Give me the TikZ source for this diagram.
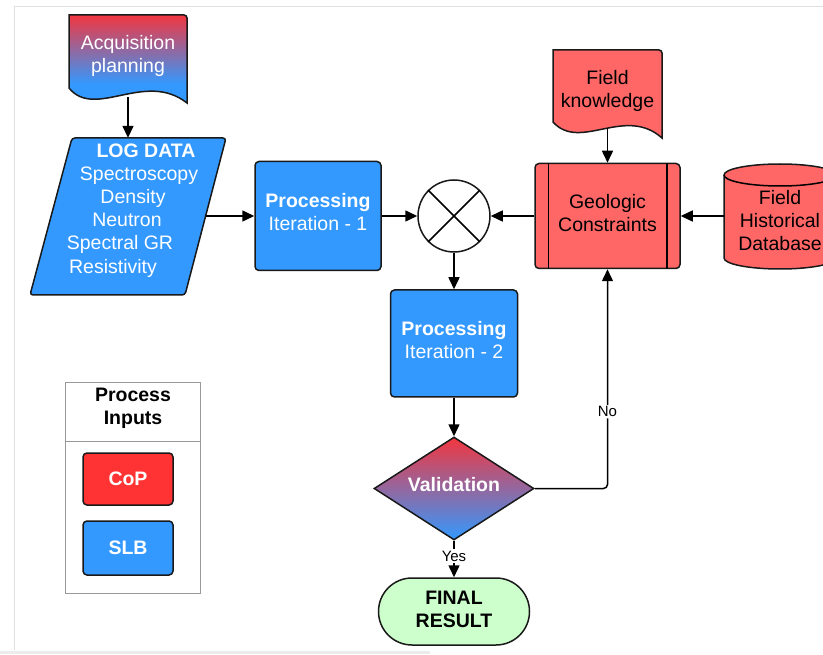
\documentclass[tikz,border=0pt]{standalone}
\usepackage{fontspec}
\setmainfont{Liberation Sans}
\usetikzlibrary{arrows.meta,shapes.geometric,shapes.misc}
\definecolor{slb}{HTML}{3399FF}
\definecolor{salmon}{HTML}{FF6666}
\definecolor{copred}{HTML}{FF3333}
\definecolor{gradred}{HTML}{F2363F}
\definecolor{fgreen}{HTML}{CCFFCC}
\pgfdeclareverticalshading{acqshade}{100bp}{color(0bp)=(slb); color(42bp)=(slb); color(75bp)=(gradred); color(100bp)=(gradred)}
\newcommand\diagfont{\fontsize{19.5}{23}\selectfont}
\begin{document}
\begin{tikzpicture}[x=1pt,y=-1pt,
  every node/.style={font=\diagfont, align=center, inner sep=0pt},
  outl/.style={draw=black!90, line width=1.5pt},
  bluebox/.style={outl, fill=slb, rounded corners=4pt, text=white},
  redbox/.style={outl, fill=salmon, rounded corners=4pt, text=black},
  ghost/.style={draw=none, fill=none},
  conn/.style={line width=1.5pt, -{Triangle[length=12pt,width=11pt]}},
  lbl/.style={font=\fontsize{15}{17}\selectfont, fill=white, inner sep=1.5pt},
  ltxt/.style={text=white, text height=15pt, text depth=3pt},
]
\useasboundingbox (0,0) rectangle (823,655);
% screenshot frame
\draw[gray!25, line width=1pt] (14,650) -- (14,7) -- (823,7);
\draw[gray!15, line width=3pt] (0,652) -- (430,652);

% Acquisition planning (document)
\node[ghost, minimum width=118pt, minimum height=82pt] (acq) at (128,56) {};
\path[outl, shading=acqshade]
  (69,88) -- (69,15) [rounded corners=3pt] -- (187,15) [sharp corners] -- (187,103)
  .. controls (145,70) and (95,120) .. (69,88) -- cycle;
\node[text=white] (acqt) at (128,55.5) {Acquisition\\planning};

% LOG DATA (parallelogram)
\node[ghost, minimum width=196pt, minimum height=157pt] (logd) at (128,216.5) {};
\path[outl, fill=slb, rounded corners=3pt] (72,138) -- (226,138) -- (185,295) -- (30,295) -- cycle;
\coordinate (logE) at (205.5,216);
\node[ltxt, font=\diagfont\bfseries] (l1) at (146,152) {LOG DATA};
\node[ltxt] (l2) at (139,175) {Spectroscopy};
\node[ltxt] (l3) at (133,198) {Density};
\node[ltxt] (l4) at (127,221) {Neutron};
\node[ltxt] (l5) at (120,244) {Spectral GR};
\node[ltxt] (l6) at (113,268) {Resistivity};

% Processing 1
\node[bluebox, minimum width=126pt, minimum height=109pt] (p1) at (318,216) {};
\node[text=white] (p1t) at (318,212.5) {\textbf{Processing}\\Iteration - 1};

% mixer circle
\node[circle, outl, fill=white, minimum size=72pt] (mix) at (454,216) {};
\draw[line width=1.5pt] (mix.north west) -- (mix.south east);
\draw[line width=1.5pt] (mix.north east) -- (mix.south west);

% Field knowledge (document)
\node[ghost, minimum width=109pt, minimum height=78pt] (fk) at (607.5,89) {};
\path[outl, fill=salmon]
  (553,122) -- (553,50) [rounded corners=3pt] -- (662,50) [sharp corners] -- (662,138)
  .. controls (625,105) and (580,152) .. (553,122) -- cycle;
\node (fkt) at (607.5,90.5) {Field\\knowledge};

% Geologic constraints
\node[redbox, minimum width=145pt, minimum height=105pt] (geo) at (607.5,216) {};
\node (geot) at (607.5,213.5) {Geologic\\Constraints};
\draw[line width=1.5pt] ([xshift=14pt]geo.north west) -- ([xshift=14pt]geo.south west);
\draw[line width=1.5pt] ([xshift=-14pt]geo.north east) -- ([xshift=-14pt]geo.south east);

% Field historical database (cylinder)
\node[ghost, minimum width=112pt, minimum height=105pt] (db) at (780,216) {};
\begin{scope}
\clip (0,0) rectangle (823,655);
\path[outl, fill=salmon] (724,175) -- (724,258)
  arc[start angle=180, end angle=360, x radius=56pt, y radius=11pt] -- (836,175)
  arc[start angle=0, end angle=180, x radius=56pt, y radius=11pt] -- cycle;
\draw[line width=1.5pt] (724,175) arc[start angle=180, end angle=360, x radius=56pt, y radius=11pt];
\end{scope}
\node (dbt) at (780,221) {Field\\Historical\\Database};

% Processing 2
\node[bluebox, minimum width=127pt, minimum height=107pt] (p2) at (454,343.5) {};
\node[text=white] (p2t) at (454,340.5) {\textbf{Processing}\\Iteration - 2};

% Validation diamond
\node[diamond, outl, top color=gradred, bottom color=slb, minimum width=160pt, minimum height=103pt] (val) at (454,488.5) {};
\node[text=white, font=\diagfont\bfseries] (valt) at (454,485) {Validation};

% Final result
\node[rounded rectangle, outl, fill=fgreen, minimum width=151pt, minimum height=67pt] (fin) at (454,611.5) {};
\node[font=\diagfont\bfseries] (fint) at (454,609.5) {FINAL\\RESULT};

% Legend
\node[draw=gray!80, line width=1pt, minimum width=135pt, minimum height=210pt] (leg) at (132.5,488) {};
\draw[gray!80, line width=1pt] (65,441) -- (200,441);
\node[font=\diagfont\bfseries] (legt) at (133,408.5) {Process\\Inputs};
\node[outl, fill=copred, rounded corners=4pt, minimum width=90pt, minimum height=52pt,
  text=white, font=\diagfont\bfseries] (cop) at (128,479) {CoP};
\node[outl, fill=slb, rounded corners=4pt, minimum width=90pt, minimum height=54pt,
  text=white, font=\diagfont\bfseries] (slbk) at (128,548) {SLB};

% connectors
\draw[conn] (acq.south) -- (logd.north);
\draw[conn] (logE) -- (p1.west);
\draw[conn] (p1.east) -- (mix.west);
\draw[conn] (geo.west) -- (mix.east);
\draw[conn] (db.west) -- (geo.east);
\draw[conn] (fk.south) -- (geo.north);
\draw[conn] (mix.south) -- (p2.north);
\draw[conn] (p2.south) -- (val.north);
\draw[conn, rounded corners=4pt] (val.east) -| (geo.south) node[lbl, pos=0.675] {No};
\draw[conn] (val.south) -- (fin.north) node[lbl, pos=0.42] {Yes};
\end{tikzpicture}
\end{document}
